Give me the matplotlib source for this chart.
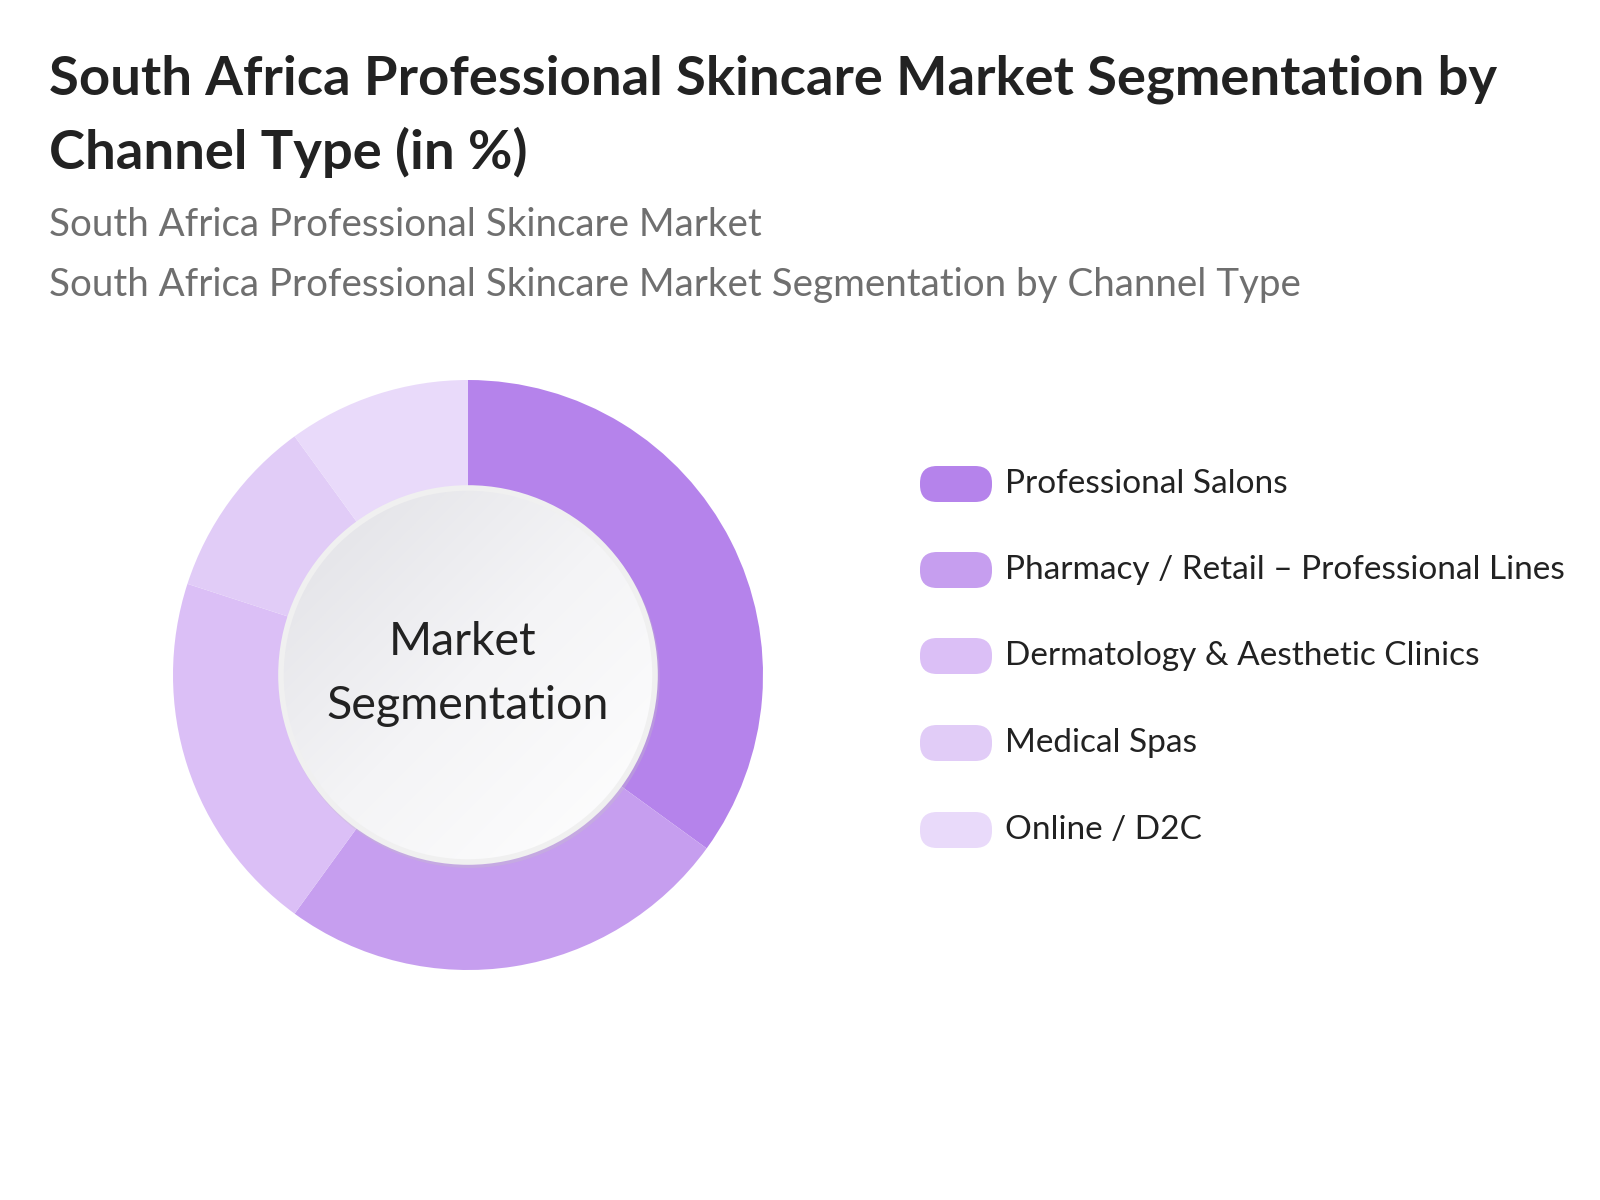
import matplotlib
matplotlib.use('Agg')
import matplotlib.pyplot as plt
import numpy as np
from matplotlib.patches import Circle, FancyBboxPatch
from matplotlib.colors import LinearSegmentedColormap
from matplotlib.transforms import IdentityTransform

plt.rcParams['font.family'] = ['Lato', 'DejaVu Sans']

title1 = 'South Africa Professional Skincare Market Segmentation by'
title2 = 'Channel Type (in %)'
subtitle1 = 'South Africa Professional Skincare Market'
subtitle2 = 'South Africa Professional Skincare Market Segmentation by Channel Type'
center_label = ['Market', 'Segmentation']

channels = ['Professional Salons', 'Pharmacy / Retail \u2013 Professional Lines',
            'Dermatology & Aesthetic Clinics', 'Medical Spas', 'Online / D2C']
shares = [35, 25, 20, 10, 10]
colors = ['#b583eb', '#c69eef', '#dbbff6', '#e1ccf7', '#e9dafa']

W, H = 1600, 1200
fig = plt.figure(figsize=(16, 12), dpi=100)
fig.patch.set_facecolor('white')

def fx(x): return x / W
def fy(y): return 1 - y / H

# titles
fig.text(fx(49), fy(94), title1, fontsize=39.2, fontweight='bold', color='#222222', va='baseline')
fig.text(fx(49), fy(169), title2, fontsize=39.2, fontweight='bold', color='#222222', va='baseline')
fig.text(fx(49), fy(236), subtitle1, fontsize=27.75, color='#6f6f6f', va='baseline')
fig.text(fx(49), fy(296), subtitle2, fontsize=27.75, color='#6f6f6f', va='baseline')

# donut
cx, cy, R = 468, 675, 295
ax = fig.add_axes([fx(cx - R), fy(cy + R), 2 * R / W, 2 * R / H])
ax.pie(shares, colors=colors, startangle=90, counterclock=False, radius=1.0,
       wedgeprops=dict(width=0.366, linewidth=0))
ax.set_xlim(-1, 1)
ax.set_ylim(-1, 1)
ax.set_aspect('equal')
ax.axis('off')

r_in = 0.634
shadow = Circle((0.006, -0.010), r_in + 0.010, color='#c4c4c4', alpha=0.3, lw=0, zorder=3)
ax.add_patch(shadow)
disk = Circle((0, 0), r_in, facecolor='none', edgecolor='#f0f0f0', lw=4, zorder=5)
ax.add_patch(disk)
clip = Circle((0, 0), r_in, transform=ax.transData)
gx, gy = np.meshgrid(np.linspace(0, 1, 200), np.linspace(0, 1, 200))
grad = (gx + (1 - gy)) / 2
cmap = LinearSegmentedColormap.from_list('g', ['#e0e0e5', '#f4f4f6', '#ffffff'])
im = ax.imshow(grad, cmap=cmap, extent=(-r_in, r_in, -r_in, r_in), origin='lower',
               zorder=4, interpolation='bicubic')
im.set_clip_path(clip)

fig.text(fx(463), fy(655), center_label[0], fontsize=33.5, color='#222222',
         ha='center', va='baseline')
fig.text(fx(468), fy(719), center_label[1], fontsize=33.5, color='#222222',
         ha='center', va='baseline')

# legend (pill swatches, drawn in pixel space)
ys = [484, 570, 656, 743, 830]
for lab, col, y in zip(channels, colors, ys):
    p = FancyBboxPatch((920, H - y - 18), 72, 36,
                       boxstyle='round,pad=0,rounding_size=17',
                       transform=IdentityTransform(), facecolor=col, edgecolor='none')
    fig.patches.append(p)
    fig.text(fx(1005), fy(y), lab, fontsize=24, color='#222222', va='center')

fig.savefig('out.png', dpi=100, facecolor='white')
